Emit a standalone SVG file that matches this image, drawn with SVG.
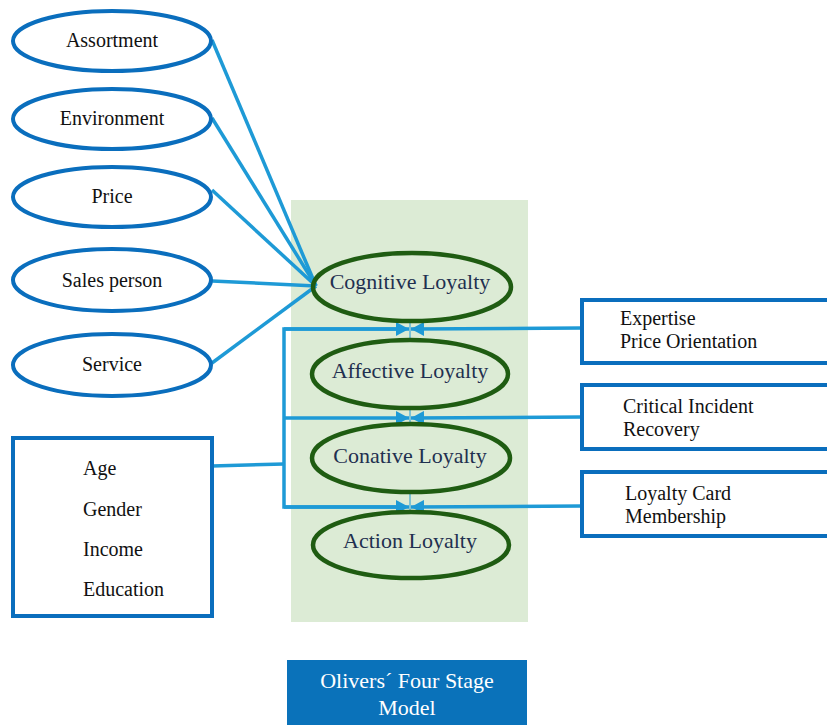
<svg xmlns="http://www.w3.org/2000/svg" width="827" height="725" viewBox="0 0 827 725">
<defs>
<style>
.txt{font-family:"Liberation Serif","Times New Roman",serif;font-size:20px;fill:#111}
.src ellipse{fill:#fff;stroke:#0A6EBD;stroke-width:4}
.box{fill:#fff;stroke:#0A6EBD;stroke-width:4}
.stage ellipse{fill:none;stroke:#1F5C12;stroke-width:4.5}
.stxt{font-family:"Liberation Serif","Times New Roman",serif;font-size:22px;fill:#1F3050;text-anchor:middle}
.mtxt{font-family:"Liberation Serif","Times New Roman",serif;font-size:22px;fill:#fff;text-anchor:middle}
.con{stroke:#1E9AD6;stroke-width:3.5;fill:none}
.thin{stroke:#1E9AD6;stroke-width:1;fill:none}
</style>
<marker id="ah" markerUnits="userSpaceOnUse" markerWidth="13" markerHeight="14" viewBox="0 0 13 14" refX="13" refY="7" orient="auto">
<path d="M0,0 L13,7 L0,14 Z" fill="#1E9AD6"/>
</marker>
</defs>
<rect x="291" y="200" width="237" height="422" fill="#DCEBD5"/>
<g id="connectors">
<line class="con" x1="212" y1="40" x2="316" y2="286"/>
<line class="con" x1="212" y1="118" x2="316" y2="286"/>
<line class="con" x1="212" y1="190" x2="316" y2="286"/>
<line class="con" x1="212" y1="281" x2="316" y2="286"/>
<line class="con" x1="212" y1="363" x2="316" y2="286"/>
<line class="thin" x1="410" y1="322" x2="410" y2="340"/>
<line class="thin" x1="410" y1="408" x2="410" y2="424"/>
<line class="thin" x1="410" y1="493" x2="410" y2="511"/>
<line class="con" x1="212" y1="466" x2="284" y2="464"/>
<polyline class="con" points="400,329 284,329 284,507 400,507"/>
<line class="con" x1="284" y1="329" x2="409" y2="329" marker-end="url(#ah)"/>
<line class="con" x1="284" y1="418" x2="409" y2="418" marker-end="url(#ah)"/>
<line class="con" x1="284" y1="507" x2="409" y2="507" marker-end="url(#ah)"/>
<line class="con" x1="582" y1="328" x2="411" y2="329" marker-end="url(#ah)"/>
<line class="con" x1="582" y1="417" x2="411" y2="418" marker-end="url(#ah)"/>
<line class="con" x1="582" y1="506" x2="411" y2="507" marker-end="url(#ah)"/>
</g>
<g id="assortment" class="src"><ellipse cx="112" cy="41" rx="99" ry="30"/><text class="txt" x="112" y="47" text-anchor="middle">Assortment</text></g>
<g id="environment" class="src"><ellipse cx="112" cy="119" rx="99" ry="30"/><text class="txt" x="112" y="125" text-anchor="middle">Environment</text></g>
<g id="price" class="src"><ellipse cx="112" cy="197" rx="99" ry="30"/><text class="txt" x="112" y="203" text-anchor="middle">Price</text></g>
<g id="salesperson" class="src"><ellipse cx="112" cy="280" rx="99" ry="31"/><text class="txt" x="112" y="287" text-anchor="middle">Sales person</text></g>
<g id="service" class="src"><ellipse cx="112" cy="365" rx="99" ry="31"/><text class="txt" x="112" y="371" text-anchor="middle">Service</text></g>
<g id="demographics"><rect class="box" x="13" y="438" width="199" height="178"/>
<text class="txt" x="83" y="475">Age</text><text class="txt" x="83" y="516">Gender</text><text class="txt" x="83" y="556">Income</text><text class="txt" x="83" y="596">Education</text></g>
<g id="cognitive" class="stage"><ellipse cx="412" cy="287" rx="99" ry="34"/><text class="stxt" x="410" y="289">Cognitive Loyalty</text></g>
<g id="affective" class="stage"><ellipse cx="410" cy="374" rx="98" ry="34"/><text class="stxt" x="410" y="378">Affective Loyalty</text></g>
<g id="conative" class="stage"><ellipse cx="411" cy="458" rx="99" ry="34"/><text class="stxt" x="410" y="463">Conative Loyalty</text></g>
<g id="action" class="stage"><ellipse cx="411" cy="545" rx="98" ry="33"/><text class="stxt" x="410" y="548">Action Loyalty</text></g>
<g id="expertise"><rect class="box" x="582" y="300" width="250" height="63"/><text class="txt" x="620" y="325">Expertise</text><text class="txt" x="620" y="348">Price Orientation</text></g>
<g id="critical"><rect class="box" x="582" y="385" width="250" height="64"/><text class="txt" x="623" y="413">Critical Incident</text><text class="txt" x="623" y="436">Recovery</text></g>
<g id="loyaltycard"><rect class="box" x="582" y="472" width="250" height="64"/><text class="txt" x="625" y="500">Loyalty Card</text><text class="txt" x="625" y="523">Membership</text></g>
<g id="model"><rect x="287" y="660" width="240" height="70" fill="#0A72BA"/>
<text class="mtxt" x="407" y="688">Olivers´ Four Stage</text>
<text class="mtxt" x="407" y="715">Model</text></g>
</svg>
